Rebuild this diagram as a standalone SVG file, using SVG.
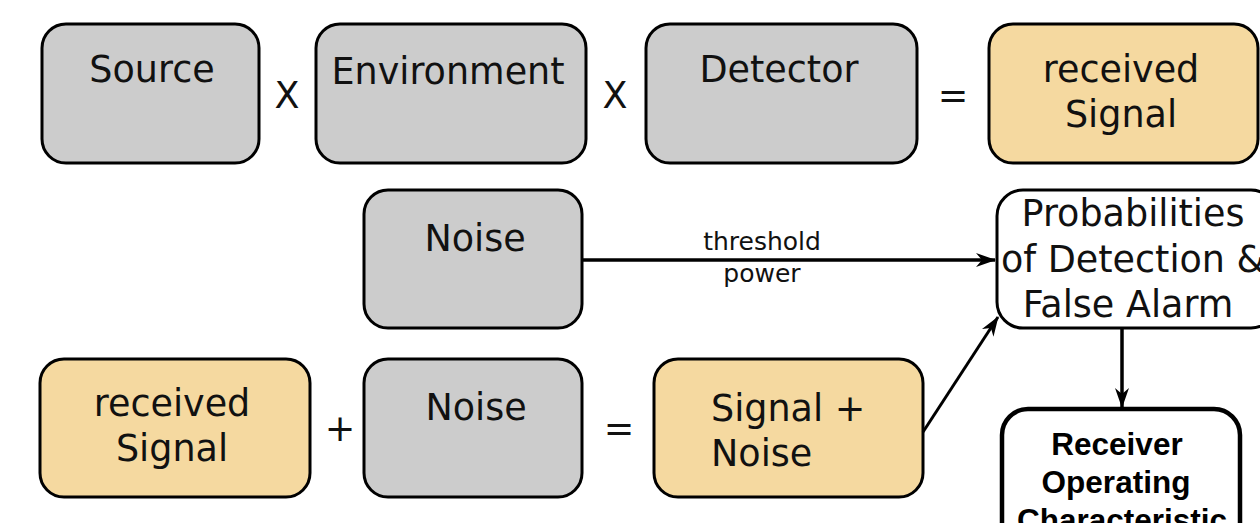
<svg xmlns="http://www.w3.org/2000/svg" width="1260" height="523" viewBox="0 0 1260 523">
<defs>
<style>
.g{fill:#cccccc;stroke:#000;stroke-width:3}
.y{fill:#f5d9a0;stroke:#000;stroke-width:3}
.w{fill:#fff;stroke:#000;stroke-width:3}
.b{fill:#fff;stroke:#000;stroke-width:4.5}
.t{font-family:"DejaVu Sans",Verdana,sans-serif;font-size:36.5px;fill:#111;text-anchor:middle}
.s{font-family:"DejaVu Sans",Verdana,sans-serif;font-size:25px;fill:#111;text-anchor:middle}
.r{font-family:"Liberation Sans",Arial,sans-serif;font-weight:bold;font-size:31.5px;fill:#000;text-anchor:middle}
.c{stroke:#000;stroke-width:3.5;fill:none}
</style>
<marker id="ah" viewBox="0 0 20 14" refX="19" refY="7" markerWidth="20" markerHeight="14" markerUnits="userSpaceOnUse" orient="auto">
<path d="M0,0 L20,7 L0,14 L6,7 Z" fill="#000"/>
</marker>
</defs>
<rect width="1260" height="523" fill="#fff"/>
<g id="source"><rect class="g" x="42" y="24" width="217" height="139" rx="24"/><text class="t" x="152" y="82">Source</text></g>
<g id="environment"><rect class="g" x="316" y="24" width="270" height="139" rx="24"/><text class="t" x="448" y="84">Environment</text></g>
<g id="detector"><rect class="g" x="646" y="24" width="271" height="139" rx="24"/><text class="t" x="779" y="82">Detector</text></g>
<g id="received1"><rect class="y" x="989" y="24" width="269" height="139" rx="24"/><text class="t" x="1121" y="82">received</text><text class="t" x="1121" y="127">Signal</text></g>
<g id="noise1"><rect class="g" x="364" y="190" width="218" height="138" rx="24"/><text class="t" x="475" y="251">Noise</text></g>
<g id="prob"><rect class="w" x="997" y="190" width="280" height="138" rx="26"/><text class="t" x="1133" y="226">Probabilities</text><text class="t" x="1133" y="272">of Detection &amp;</text><text class="t" x="1128" y="317">False Alarm</text></g>
<g id="received2"><rect class="y" x="40" y="359" width="270" height="138" rx="24"/><text class="t" x="172" y="416">received</text><text class="t" x="172" y="461">Signal</text></g>
<g id="noise2"><rect class="g" x="364" y="359" width="218" height="138" rx="24"/><text class="t" x="476" y="420">Noise</text></g>
<g id="signalnoise"><rect class="y" x="654" y="359" width="269" height="138" rx="24"/><text class="t" x="711" y="421" style="text-anchor:start">Signal +</text><text class="t" x="711" y="466" style="text-anchor:start">Noise</text></g>
<g id="roc"><rect class="b" x="1002" y="409" width="238" height="140" rx="26"/><text class="r" x="1117" y="455">Receiver</text><text class="r" x="1116" y="493">Operating</text><text class="r" x="1122" y="531">Characteristic</text></g>
<g id="ops">
<text class="t" x="287" y="108">X</text>
<text class="t" x="615" y="108">X</text>
<text class="t" x="953" y="108">=</text>
<text class="t" x="340" y="441">+</text>
<text class="t" x="619" y="441">=</text>
</g>
<g id="connectors">
<line class="c" x1="582" y1="260" x2="995" y2="260" marker-end="url(#ah)"/>
<line class="c" x1="923" y1="432" x2="998" y2="317" marker-end="url(#ah)" style="stroke-width:3"/>
<line class="c" x1="1122" y1="328" x2="1122" y2="407" marker-end="url(#ah)"/>
<text class="s" x="762" y="250">threshold</text>
<text class="s" x="762" y="282">power</text>
</g>
</svg>
